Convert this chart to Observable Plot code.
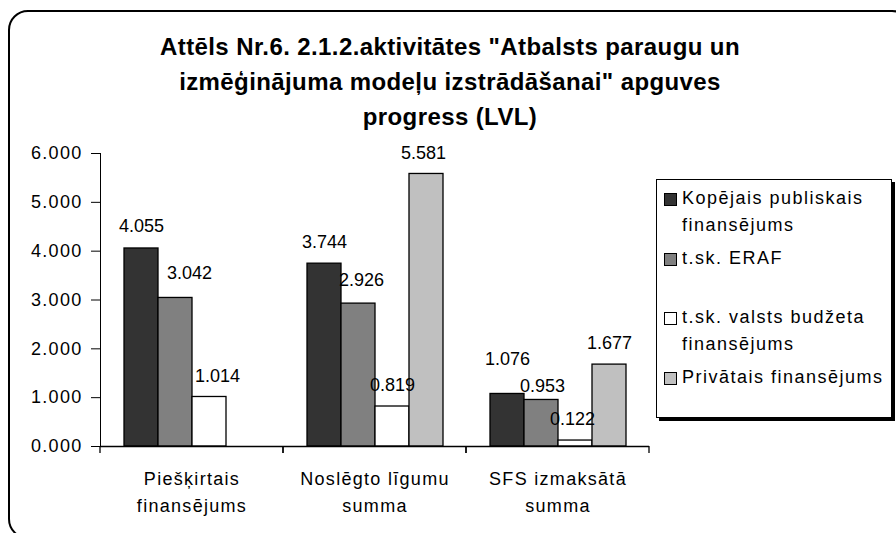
<!DOCTYPE html>
<html><head><meta charset="utf-8">
<script src="https://cdn.jsdelivr.net/npm/d3@7"></script>
<script src="https://cdn.jsdelivr.net/npm/@observablehq/plot@0.6"></script>
<style>
body{margin:0;background:#fff;font-family:Arial,"Liberation Sans",sans-serif;}
#wrap{position:relative;width:896px;height:533px;overflow:hidden;background:#fff;}
#frame{position:absolute;left:8px;top:10px;width:904px;height:529px;border:2px solid #000;border-radius:20px;box-sizing:border-box;}
#title{position:absolute;left:0;top:29px;width:900px;text-align:center;font-weight:bold;font-size:24px;line-height:35px;letter-spacing:0.4px;color:#000;}
#chart{position:absolute;left:0;top:0;}
#chart svg text{letter-spacing:1.3px;}
#chart g[font-style="normal"] text{letter-spacing:0;}
#legend{position:absolute;left:656px;top:179px;width:236px;height:239px;border:1px solid #000;box-shadow:3px 3px 0 #000;box-sizing:border-box;background:#fff;}
.item{position:absolute;left:7px;font-size:18px;letter-spacing:1.5px;line-height:27px;color:#000;white-space:nowrap;}
.sw{position:absolute;left:0;top:8px;width:13px;height:13px;border:1px solid #000;box-sizing:border-box;}
.lbl{margin-left:18px;}
</style></head>
<body>
<div id="wrap">
  <div id="frame"></div>
  <div id="title"></div>
  <div id="chart"></div>
  <div id="legend"></div>
</div>
<script>
const titleLines = ["Attēls Nr.6. 2.1.2.aktivitātes \"Atbalsts paraugu un", "izmēģinājuma modeļu izstrādāšanai\" apguves", "progress (LVL)"];
const categories = ["Piešķirtais finansējums", "Noslēgto līgumu summa", "SFS izmaksātā summa"];
const categoryLines = [["Piešķirtais", "finansējums"], ["Noslēgto līgumu", "summa"], ["SFS izmaksātā", "summa"]];
const seriesNames = ["Kopējais publiskais finansējums", "t.sk. ERAF", "t.sk. valsts budžeta finansējums", "Privātais finansējums"];
const legendLines = [["Kopējais publiskais", "finansējums"], ["t.sk. ERAF"], ["t.sk. valsts budžeta", "finansējums"], ["Privātais finansējums"]];
const kopejais = [4.055, 3.744, 1.076];
const eraf = [3.042, 2.926, 0.953];
const budzets = [1.014, 0.819, 0.122];
const privatais = [null, 5.581, 1.677];
const yTicks = [0, 1, 2, 3, 4, 5, 6];
const colors = ["#333333", "#808080", "#ffffff", "#c0c0c0"];
// label nudges in pixels (series x category), as placed in the original
const labelDx = [[0, 0, 0], [14, 3, 1], [8, 0, -3], [0, -3, 0]];
const labelDy = [[-22, -21, -35], [-25, -23, -14], [-21, -21, -21], [-21, -21, -21]];

const seriesValues = [kopejais, eraf, budzets, privatais];
const rows = [];
seriesValues.forEach((vals, s) => vals.forEach((v, c) => {
  if (v != null) rows.push({category: categories[c], series: seriesNames[s], value: v, s, c});
}));

document.getElementById("title").innerHTML = titleLines.map(t => `<div>${t.replace(/&/g,"&amp;").replace(/</g,"&lt;")}</div>`).join("");

const boundaryTicks = (index, scales, values, dimensions) => {
  const {width, height, marginBottom, marginLeft, marginRight} = dimensions;
  const g = d3.create("svg:g");
  const y0 = height - marginBottom;
  [marginLeft, width - marginRight].forEach(x => g.append("line")
    .attr("x1", x).attr("x2", x).attr("y1", y0).attr("y2", y0 + 7)
    .attr("stroke", "black").attr("stroke-width", 1.3));
  return g.node();
};

const valueLabels = rows.map(r => Plot.text([r], {
  fx: "category", x: "series", y: "value", text: d => d.value.toFixed(3),
  dx: labelDx[r.s][r.c], dy: labelDy[r.s][r.c], fontSize: 18, fill: "black", fontStyle: "normal"
}));

const chart = Plot.plot({
  width: 896, height: 533,
  marginLeft: 100, marginRight: 247, marginTop: 153, marginBottom: 87,
  style: {fontFamily: "Arial, 'Liberation Sans', sans-serif", fontSize: "18px", background: "transparent", overflow: "visible", color: "black"},
  fx: {domain: categories, padding: 0, axis: null},
  x: {domain: seriesNames, paddingInner: 0, paddingOuter: 0.69, axis: null},
  y: {domain: [0, 6], ticks: yTicks, tickFormat: d => d.toFixed(3), tickSize: 9, tickPadding: 9, line: true, label: null},
  color: {domain: seriesNames, range: colors},
  marks: [
    Plot.barY(rows, {fx: "category", x: "series", y: "value", fill: "series", stroke: "black", strokeWidth: 1.3}),
    Plot.ruleY([0], {stroke: "black", strokeWidth: 1.3}),
    boundaryTicks,
    ...valueLabels,
    Plot.text(categories, {fx: d => d, text: (d, i) => categoryLines[i].join("\n"), frameAnchor: "bottom", lineAnchor: "top", dy: 19, lineHeight: 1.5, fontSize: 18, fill: "black"})
  ]
});
document.getElementById("chart").appendChild(chart);

const legend = document.getElementById("legend");
legendLines.forEach((lines, i) => {
  const item = document.createElement("div");
  item.className = "item";
  item.style.top = (5 + i * 59.7) + "px";
  item.innerHTML = `<div class="sw" style="background:${colors[i]}"></div><div class="lbl">${lines.join("<br>")}</div>`;
  legend.appendChild(item);
});
</script>
</body></html>
